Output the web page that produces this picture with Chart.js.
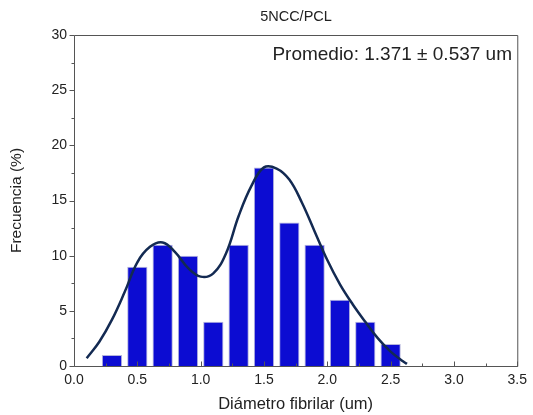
<!DOCTYPE html>
<html>
<head>
<meta charset="utf-8">
<script src="https://cdn.jsdelivr.net/npm/chart.js@4/dist/chart.umd.min.js"></script>
<style>
html,body{margin:0;padding:0;background:#fff;}
#wrap{width:533px;height:415px;position:relative;}
</style>
</head>
<body>
<div id="wrap"><canvas id="c" width="533" height="415"></canvas></div>
<script>
// Histogram data
const binCenters = [0.3, 0.5, 0.7, 0.9, 1.1, 1.3, 1.5, 1.7, 1.9, 2.1, 2.3, 2.5];
const frequencies = [1, 9, 11, 10, 4, 11, 18, 13, 11, 6, 4, 2];
// Fitted curve
const curveX = [0.1, 0.2, 0.3, 0.4, 0.5, 0.6, 0.7, 0.8, 0.9, 1.0, 1.1, 1.2, 1.3, 1.4, 1.5, 1.6, 1.7, 1.8, 1.9, 2.0, 2.1, 2.2, 2.3, 2.4, 2.5, 2.6, 2.63];
const curveY = [0.7, 2.2, 4.2, 6.7, 9.4, 10.8, 11.2, 10.3, 8.9, 8.1, 8.4, 10.2, 13.6, 16.3, 18.0, 17.9, 16.9, 14.8, 12.2, 9.6, 7.4, 5.6, 4.0, 2.5, 1.3, 0.4, 0.2];
const xTicks = [0.0, 0.5, 1.0, 1.5, 2.0, 2.5, 3.0, 3.5];
const yTicks = [0, 5, 10, 15, 20, 25, 30];
const titleText = '5NCC/PCL';
const noteText = 'Promedio: 1.371 ± 0.537 um';

const FONT = '"Liberation Sans", Arial, sans-serif';
const axisColor = '#555';

const decor = {
  id: 'decor',
  afterDraw(chart) {
    const ctx = chart.ctx;
    const a = chart.chartArea;
    const xs = chart.scales.x, ys = chart.scales.y;
    ctx.save();
    ctx.strokeStyle = axisColor;
    ctx.lineWidth = 1;
    // frame
    ctx.beginPath();
    ctx.rect(a.left + 0.5, a.top + 0.5, a.right - a.left, a.bottom - a.top);
    ctx.stroke();
    // y ticks (outward)
    ctx.beginPath();
    for (let v = 0; v <= 30.001; v += 2.5) {
      const y = Math.round(ys.getPixelForValue(v)) + 0.5;
      const major = Math.abs(v % 5) < 1e-6;
      ctx.moveTo(a.left + 0.5, y);
      ctx.lineTo(a.left + 0.5 - (major ? 5 : 3), y);
    }
    // x ticks (inward)
    for (let v = 0; v <= 3.5001; v += 0.25) {
      const x = Math.round(xs.getPixelForValue(v)) + 0.5;
      const major = Math.abs((v * 2) % 1) < 1e-6;
      ctx.moveTo(x, a.bottom + 0.5);
      ctx.lineTo(x, a.bottom + 0.5 - (major ? 5 : 3));
    }
    ctx.stroke();
    // title
    ctx.fillStyle = '#222';
    ctx.font = '14.5px ' + FONT;
    ctx.textAlign = 'center';
    ctx.textBaseline = 'middle';
    ctx.fillText(titleText, 296, 17);
    // note
    ctx.font = '19px ' + FONT;
    ctx.textAlign = 'right';
    ctx.fillText(noteText, 512, 55);
    ctx.restore();
  }
};

new Chart(document.getElementById('c'), {
  data: {
    datasets: [
      {
        type: 'bar',
        data: binCenters.map((x, i) => ({x: x, y: frequencies[i]})),
        backgroundColor: '#0c0cd2',
        borderColor: '#b4b4dc',
        borderWidth: 1,
        barPercentage: 0.8,
        categoryPercentage: 1.0,
        order: 2
      },
      {
        type: 'line',
        data: curveX.map((x, i) => ({x: x, y: curveY[i]})),
        borderColor: '#132a52',
        borderWidth: 2.5,
        pointRadius: 0,
        fill: false,
        tension: 0.4,
        order: 1
      }
    ]
  },
  options: {
    responsive: false,
    animation: false,
    layout: {padding: {top: 35, right: 15, left: 0, bottom: 0}},
    plugins: {legend: {display: false}, tooltip: {enabled: false}, title: {display: false}},
    scales: {
      x: {
        type: 'linear',
        offset: false,
        min: 0, max: 3.5,
        afterBuildTicks: s => { s.ticks = xTicks.map(v => ({value: v})); },
        afterFit: s => { s.height = 49; },
        grid: {display: false, drawTicks: false, offset: false},
        border: {display: false},
        ticks: {
          padding: 6,
          color: '#222',
          font: {family: FONT, size: 14},
          callback: v => Number(v).toFixed(1),
          maxRotation: 0
        },
        title: {display: true, text: 'Diámetro fibrilar (um)', color: '#222',
          font: {family: FONT, size: 16.5}, padding: {top: 0, bottom: 1}}
      },
      y: {
        type: 'linear',
        min: 0, max: 30,
        afterBuildTicks: s => { s.ticks = yTicks.map(v => ({value: v})); },
        afterFit: s => { s.width = 74; },
        grid: {display: false, drawTicks: false},
        border: {display: false},
        ticks: {
          padding: 7,
          color: '#222',
          font: {family: FONT, size: 14},
          callback: v => String(v)
        },
        title: {display: true, text: 'Frecuencia (%)', color: '#222',
          font: {family: FONT, size: 15.5}, padding: {top: 7, bottom: 0}}
      }
    }
  },
  plugins: [decor]
});
</script>
</body>
</html>
